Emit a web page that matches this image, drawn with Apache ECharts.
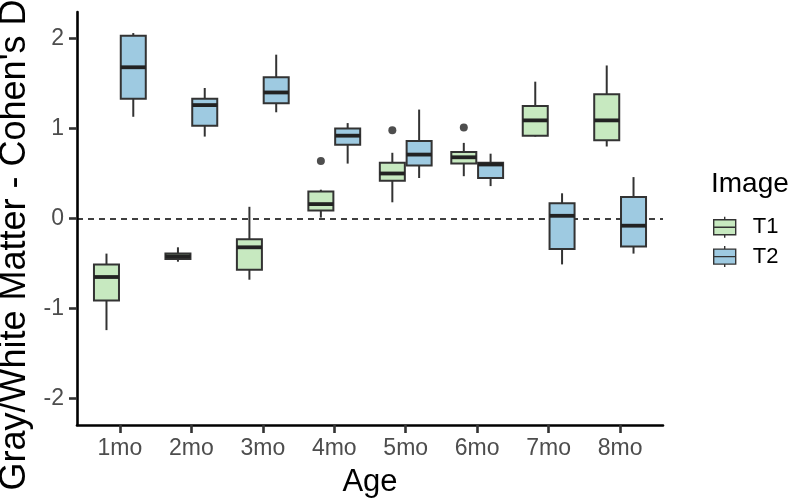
<!DOCTYPE html>
<html>
<head>
<meta charset="utf-8">
<script src="https://cdn.jsdelivr.net/npm/echarts@6/dist/echarts.min.js"></script>
<style>
html,body{margin:0;padding:0;background:#fff;}
#chart{width:800px;height:504px;}
</style>
</head>
<body>
<div id="chart"></div>
<script>
var ages = ['1mo', '2mo', '3mo', '4mo', '5mo', '6mo', '7mo', '8mo'];
// [min, q1, median, q3, max] per age
var t1Box = [
	[-1.24, -0.91, -0.65, -0.51, -0.39],
	[-0.48, -0.45, -0.42, -0.39, -0.32],
	[-0.68, -0.57, -0.32, -0.23, 0.13],
	[0.01, 0.09, 0.16, 0.30, 0.32],
	[0.18, 0.42, 0.50, 0.62, 0.73],
	[0.47, 0.61, 0.68, 0.74, 0.84],
	[0.91, 0.92, 1.09, 1.25, 1.52],
	[0.80, 0.87, 1.09, 1.38, 1.70]
];
var t2Box = [
	[1.13, 1.33, 1.68, 2.03, 2.06],
	[0.91, 1.03, 1.26, 1.33, 1.45],
	[1.18, 1.28, 1.40, 1.57, 1.82],
	[0.61, 0.82, 0.92, 1.00, 1.06],
	[0.45, 0.59, 0.71, 0.86, 1.21],
	[0.36, 0.45, 0.60, 0.62, 0.72],
	[-0.51, -0.34, 0.03, 0.17, 0.28],
	[-0.39, -0.31, -0.08, 0.24, 0.46]
];
var t1OutAge = ['4mo', '5mo', '6mo'];
var t1OutVal = [0.64, 0.98, 1.01];
var yTicks = [-2, -1, 0, 1, 2];

var dodge = 0.1875;   // half of dodge width 0.75
var boxW = 0.35;
var edge = '#333333';
var fontName = 'Liberation Sans, Arial, sans-serif';

function boxData(list){
	return list.map(function(b, i){ return [i].concat(b); });
}

function drawBox(shift){
	return function(params, api){
		var x = api.value(0) + shift;
		var lo = api.coord([x, api.value(1)]);
		var q1 = api.coord([x, api.value(2)]);
		var md = api.coord([x, api.value(3)]);
		var q3 = api.coord([x, api.value(4)]);
		var hi = api.coord([x, api.value(5)]);
		var half = api.size([boxW, 0])[0] / 2;
		var line = {stroke: edge, lineWidth: 2};
		return {
			type: 'group',
			children: [
				{type: 'line', shape: {x1: lo[0], y1: lo[1], x2: q1[0], y2: q1[1]}, style: line},
				{type: 'line', shape: {x1: q3[0], y1: q3[1], x2: hi[0], y2: hi[1]}, style: line},
				{type: 'rect', shape: {x: q3[0] - half, y: q3[1], width: half * 2, height: q1[1] - q3[1]},
					style: {fill: api.visual('color'), stroke: edge, lineWidth: 2}},
				{type: 'line', shape: {x1: md[0] - half, y1: md[1], x2: md[0] + half, y2: md[1]},
					style: {stroke: '#222222', lineWidth: 3.8}}
			]
		};
	};
}

var outData = t1OutAge.map(function(a, k){
	return [ages.indexOf(a) - dodge, t1OutVal[k]];
});
var tickIdx = ages.map(function(a, i){ return i; });
var keyIcon = 'path://M0,3H22V18H0Z M0,10.5H22 M11,0V3 M11,18V21';

var chart = echarts.init(document.getElementById('chart'));
var option = {
	animation: false,
	textStyle: {fontFamily: fontName},
	title: {
		text: 'Image',
		left: 711,
		top: 170,
		padding: 0,
		textStyle: {fontSize: 28, fontWeight: 'normal', color: '#000', fontFamily: fontName}
	},
	legend: {
		orient: 'vertical',
		left: 713,
		top: 216,
		padding: 0,
		itemWidth: 22,
		itemHeight: 21,
		itemGap: 7,
		selectedMode: false,
		itemStyle: {borderColor: edge, borderWidth: 1.4},
		textStyle: {fontSize: 22, color: '#000', padding: [0, 0, 0, 12]},
		data: [{name: 'T1', icon: keyIcon}, {name: 'T2', icon: keyIcon}]
	},
	grid: {left: 77, right: 137, top: 12, bottom: 79},
	xAxis: {
		type: 'value',
		min: -0.6,
		max: 7.6,
		name: 'Age',
		nameLocation: 'middle',
		nameGap: 42,
		nameTextStyle: {fontSize: 31, color: '#000'},
		axisLine: {onZero: false, lineStyle: {color: '#000', width: 2.6}},
		axisTick: {customValues: tickIdx, length: 8, lineStyle: {color: edge, width: 2.6}},
		axisLabel: {
			customValues: tickIdx,
			fontSize: 23,
			color: '#4D4D4D',
			margin: 12,
			formatter: function(v){ return ages[Math.round(v)]; }
		},
		splitLine: {show: false}
	},
	yAxis: {
		type: 'value',
		min: -2.294,
		max: 2.294,
		axisLine: {onZero: false, lineStyle: {color: '#000', width: 2.6}},
		axisTick: {customValues: yTicks, length: 8, lineStyle: {color: edge, width: 2.6}},
		axisLabel: {customValues: yTicks, fontSize: 23, color: '#4D4D4D', margin: 13},
		splitLine: {show: false}
	},
	graphic: [{
		type: 'text',
		x: 15,
		y: 245,
		rotation: Math.PI / 2,
		style: {
			text: "Gray/White Matter - Cohen's D",
			fontSize: 36,
			fontFamily: fontName,
			fill: '#000',
			align: 'center',
			verticalAlign: 'middle'
		}
	}],
	series: [
		{
			name: 'T1',
			type: 'custom',
			z: 3,
			itemStyle: {color: '#C7E9C0'},
			renderItem: drawBox(-dodge),
			encode: {x: 0, y: [1, 2, 3, 4, 5]},
			data: boxData(t1Box)
		},
		{
			name: 'T2',
			type: 'custom',
			z: 3,
			itemStyle: {color: '#9ECAE1'},
			renderItem: drawBox(dodge),
			encode: {x: 0, y: [1, 2, 3, 4, 5]},
			data: boxData(t2Box)
		},
		{
			name: 'outliers',
			type: 'scatter',
			z: 4,
			symbolSize: 8,
			itemStyle: {color: '#222222'},
			data: outData,
			markLine: {
				z: 1,
				silent: true,
				symbol: 'none',
				label: {show: false},
				lineStyle: {color: '#000', width: 1.6, type: [6, 5]},
				data: [{yAxis: 0}]
			}
		}
	]
};
chart.setOption(option);
</script>
</body>
</html>
